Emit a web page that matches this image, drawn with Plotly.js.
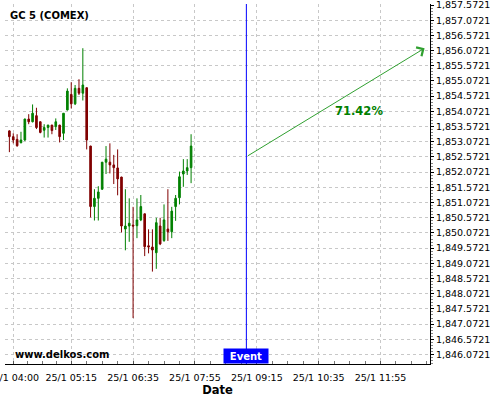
<!DOCTYPE html>
<html>
<head>
<meta charset="utf-8">
<script src="https://cdn.plot.ly/plotly-3.0.1.min.js"></script>
<style>html,body{margin:0;padding:0;background:#fff;}#chart{width:500px;height:400px;}</style>
</head>
<body>
<div id="chart"></div>
<script>
// ---- data ----
const day = '2025-01-25 ';
const times = ['03:55','04:00','04:05','04:10','04:15','04:20','04:25','04:30','04:35','04:40',
  '04:45','04:50','04:55','05:00','05:05','05:10','05:15','05:20','05:25','05:30',
  '05:35','05:40','05:45','05:50','05:55','06:00','06:05','06:10','06:15','06:20',
  '06:25','06:30','06:35','06:40','06:45','06:50','06:55','07:00','07:05','07:10',
  '07:15','07:20','07:25','07:30','07:35','07:40','07:45','07:50'];
const open  = [1853.43,1853.24,1853.15,1853.04,1853.13,1853.82,1853.73,1853.93,1853.73,1853.45,
  1853.54,1853.62,1853.57,1853.62,1853.35,1854.12,1854.63,1854.32,1854.83,1854.67,
  1854.85,1852.93,1850.94,1851.21,1851.51,1852.40,1852.40,1852.31,1852.21,1851.91,
  1850.20,1850.30,1850.33,1850.31,1850.50,1850.70,1849.65,1849.61,1849.42,1850.30,
  1849.82,1850.20,1850.11,1850.94,1851.23,1852.01,1852.11,1852.22];
const high  = [1853.45,1853.35,1853.32,1853.40,1853.83,1853.98,1854.30,1854.19,1853.74,1853.65,
  1853.63,1853.63,1853.84,1853.63,1854.01,1854.83,1855.03,1854.94,1855.13,1856.15,
  1854.86,1852.94,1851.51,1851.61,1852.40,1852.93,1853.02,1852.64,1852.82,1851.92,
  1851.51,1851.21,1850.93,1851.21,1851.32,1850.71,1850.19,1850.19,1850.57,1850.57,
  1851.01,1851.51,1850.93,1851.32,1852.09,1852.50,1852.50,1853.32];
const low   = [1852.73,1853.02,1852.91,1853.02,1853.10,1853.65,1853.71,1853.49,1853.35,1853.21,
  1853.21,1853.32,1853.46,1853.05,1853.13,1854.10,1854.17,1854.28,1854.61,1854.43,
  1852.82,1850.58,1850.48,1850.48,1851.49,1852.01,1852.03,1851.68,1851.31,1850.09,
  1849.50,1849.78,1847.27,1849.90,1850.46,1849.31,1849.40,1848.80,1848.89,1849.67,
  1849.78,1849.81,1849.90,1850.47,1851.01,1851.59,1851.98,1851.71];
const close = [1853.24,1853.13,1852.94,1853.13,1853.82,1853.73,1854.01,1853.54,1853.38,1853.54,
  1853.62,1853.44,1853.73,1853.24,1854.01,1854.74,1854.32,1854.83,1854.67,1854.94,
  1853.13,1850.94,1851.21,1851.42,1852.40,1852.50,1852.31,1852.22,1851.85,1850.30,
  1850.30,1850.39,1850.30,1850.50,1850.94,1849.62,1849.61,1849.51,1850.41,1849.71,
  1850.50,1850.11,1850.79,1851.21,1851.92,1852.11,1852.22,1852.93];

const tickTimes  = ['04:00','05:15','06:35','07:55','09:15','10:35','11:55'];
const tickLabels = ['25/1 04:00','25/1 05:15','25/1 06:35','25/1 07:55','25/1 09:15','25/1 10:35','25/1 11:55'];

const eventTime = ['09:01:30'];
const eventLabel = ['Event'];
const arrowStart = {t: '09:01:30', p: 1852.58};
const arrowEnd   = {t: '12:52', p: 1856.15};
const forecastText = ['71.42%'];
const forecastPos = {t: '11:27', p: 1854.0721};
const chartTitle = 'GC 5 (COMEX)';
const watermark = 'www.delkos.com';

// ---- build ----
const x = times.map(t => day + t);
const tickvals = tickTimes.map(t => day + t);

// minor ticks: quarters between major ticks (plus continuing after last)
function toMs(s){ return new Date(s.replace(' ','T')).getTime(); }
function fromMs(ms){ const d = new Date(ms); const p = n => String(n).padStart(2,'0');
  return d.getFullYear()+'-'+p(d.getMonth()+1)+'-'+p(d.getDate())+' '+p(d.getHours())+':'+p(d.getMinutes())+':'+p(d.getSeconds()); }
const minorVals = [];
for (let i = 0; i < tickvals.length - 1; i++) {
  const a = toMs(tickvals[i]), b = toMs(tickvals[i+1]);
  for (let k = 1; k < 4; k++) minorVals.push(fromMs(a + (b - a) * k / 4));
}
{
  const n = tickvals.length;
  const step = (toMs(tickvals[n-1]) - toMs(tickvals[n-2])) / 4;
  for (let k = 1; k < 4; k++) minorVals.push(fromMs(toMs(tickvals[n-1]) + step * k));
}

const trace = {
  type: 'candlestick',
  x: x, open: open, high: high, low: low, close: close,
  increasing: {line: {color: '#008000', width: 1}, fillcolor: '#008000'},
  decreasing: {line: {color: '#800000', width: 1}, fillcolor: '#800000'},
  whiskerwidth: 0,
  hoverinfo: 'skip',
  showlegend: false
};

const gridColor = '#c8c8c8';
const font = {family: 'DejaVu Sans, sans-serif', size: 9.5, color: '#000'};

const layout = {
  width: 500, height: 400,
  margin: {l: 5, r: 70, t: 4, b: 36},
  paper_bgcolor: '#fff', plot_bgcolor: '#fff',
  font: font,
  showlegend: false,
  boxgap: 0.4,
  title: {
    text: chartTitle, xref: 'container', yref: 'container',
    x: 0.02, xanchor: 'left', y: 1 - 15/400, yanchor: 'middle',
    font: {family: 'DejaVu Sans, sans-serif', size: 10, weight: 'bold', color: '#000'}
  },
  xaxis: {
    type: 'date',
    range: [day + '03:49:20', day + '12:59:00'],
    rangeslider: {visible: false},
    tickmode: 'array', tickvals: tickvals, ticktext: tickLabels,
    ticks: 'inside', ticklen: 3, tickcolor: '#555',
    ticklabeloverflow: 'allow',
    ticklabelstandoff: 5,
    showgrid: true, gridcolor: gridColor, griddash: '3px,3px', gridwidth: 1,
    showline: true, linecolor: '#000', linewidth: 1,
    zeroline: false,
    tickfont: font,
    minor: {tickmode: 'array', tickvals: minorVals, ticks: 'inside', ticklen: 3, tickcolor: '#777', showgrid: false},
    title: {text: 'Date', font: {family: 'DejaVu Sans, sans-serif', size: 11.5, weight: 'bold', color: '#000'}, standoff: 3},
    fixedrange: true
  },
  yaxis: {
    side: 'right',
    range: [1845.759, 1857.605],
    tick0: 1846.0721, dtick: 0.5, tickformat: ',.4f',
    ticks: 'outside', ticklen: 3, tickcolor: '#000',
    ticklabeloverflow: 'allow',
    showgrid: true, gridcolor: gridColor, griddash: '3px,3px', gridwidth: 1,
    showline: true, linecolor: '#000', linewidth: 1,
    zeroline: false,
    tickfont: font,
    minor: {dtick: 0.1, tick0: 1846.0721, ticks: 'outside', ticklen: 2, tickcolor: '#888', showgrid: false},
    fixedrange: true
  },
  shapes: eventTime.map(t => ({
    type: 'line', xref: 'x', yref: 'paper',
    x0: day + t, x1: day + t, y0: 0, y1: 1,
    line: {color: '#0000ff', width: 1}
  })),
  annotations: [
    {
      xref: 'x', yref: 'y', axref: 'x', ayref: 'y',
      x: day + arrowEnd.t, y: arrowEnd.p,
      ax: day + arrowStart.t, ay: arrowStart.p,
      showarrow: true, arrowhead: 4, arrowsize: 2, arrowwidth: 1, arrowcolor: '#30a030',
      text: ''
    },
    {
      xref: 'x', yref: 'y', x: day + forecastPos.t, y: forecastPos.p,
      text: forecastText[0], showarrow: false,
      font: {family: 'DejaVu Sans, sans-serif', size: 11.5, weight: 'bold', color: '#008000'}
    },
    {
      xref: 'x', yref: 'paper', x: day + eventTime[0], y: 0, yanchor: 'bottom', xanchor: 'center',
      text: eventLabel[0], showarrow: false, bgcolor: '#0000ff',
      width: 42, height: 12, borderpad: 1,
      font: {family: 'DejaVu Sans, sans-serif', size: 10, weight: 'bold', color: '#fff'}
    },
    {
      xref: 'paper', yref: 'paper', x: 8/425, y: 10/360, xanchor: 'left', yanchor: 'middle',
      text: watermark, showarrow: false,
      font: {family: 'DejaVu Sans, sans-serif', size: 10, weight: 'bold', color: '#000'}
    }
  ]
};

Plotly.newPlot('chart', [trace], layout, {displayModeBar: false, staticPlot: true});
</script>
</body>
</html>
